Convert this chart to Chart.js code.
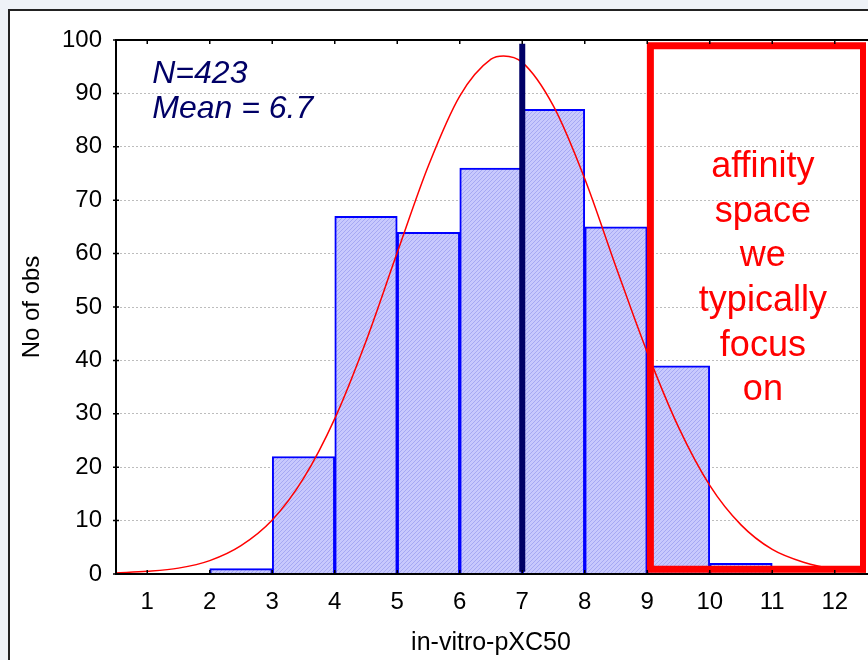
<!DOCTYPE html>
<html>
<head>
<meta charset="utf-8">
<script src="https://cdn.jsdelivr.net/npm/chart.js@4.4.1/dist/chart.umd.min.js"></script>
<style>
  html, body { margin: 0; padding: 0; background: #eef2f7; overflow: hidden; }
  #frame { position: absolute; left: 8px; top: 9px; width: 870px; height: 660px; background: #fff; border-left: 2px solid #222; border-top: 2px solid #222; }
  #chart { position: absolute; left: 0; top: 0; }
</style>
</head>
<body>
<div id="frame"></div>
<canvas id="chart" width="868" height="660"></canvas>
<script>
// histogram bins (centre of each unit-wide bin) and counts
const binCentres = [2.5, 3.5, 4.5, 5.5, 6.5, 7.5, 8.5, 9.5, 10.5];
const binCounts = [1, 22, 67, 64, 76, 87, 65, 39, 2];
const xTicks = [1, 2, 3, 4, 5, 6, 7, 8, 9, 10, 11, 12];
const yTicks = [0, 10, 20, 30, 40, 50, 60, 70, 80, 90, 100];

// fitted normal curve
const curveX = [0.5, 1, 1.5, 2, 2.5, 3, 3.5, 4, 4.5, 5, 5.5, 6, 6.5, 6.7, 7, 7.5, 8, 8.5, 9, 9.5, 10, 10.5, 11, 11.5, 12, 12.5];
const curveY = [0.2, 0.5, 1.1, 2.5, 5.3, 10.1, 17.9, 29.1, 43.6, 60.2, 76.5, 89.5, 96.4, 97, 95.8, 87.6, 74, 57.5, 41.5, 27.5, 16.6, 9.2, 4.6, 2.2, 0.9, 0.4];

// vertical mean marker and the red "focus" box (data units)
const meanX = 7;
const meanSpan = [0.4, 99.3];
const focusX = [9.05, 12.46];
const focusY = [0.9, 98.9];
const focusLines = ['affinity', 'space', 'we', 'typically', 'focus', 'on'];
const statLines = ['N=423', 'Mean = 6.7'];

Chart.defaults.font.family = "'Liberation Sans', Arial, sans-serif";
Chart.defaults.color = '#000';

// light blue fill with fine diagonal hatching, like the original bars
const hatch = () => {
    const c = document.createElement('canvas');
    c.width = 4; c.height = 4;
    const g = c.getContext('2d');
    g.fillStyle = '#c8c9fd';
    g.fillRect(0, 0, 4, 4);
    g.strokeStyle = '#a6a9f3';
    g.lineWidth = 1;
    g.beginPath();
    g.moveTo(-1, 5); g.lineTo(5, -1);
    g.stroke();
    return g.createPattern(c, 'repeat');
};

const frame = {
    id: 'frame',
    afterDatasetsDraw(chart) {
        const {ctx, chartArea: a, scales: {x, y}} = chart;
        ctx.save();
        ctx.strokeStyle = '#000';
        ctx.lineWidth = 2;
        ctx.beginPath();
        ctx.moveTo(a.right + 4, a.top);
        ctx.lineTo(a.left, a.top);
        ctx.lineTo(a.left, a.bottom);
        ctx.lineTo(a.right + 4, a.bottom);
        ctx.stroke();
        ctx.lineWidth = 1.5;
        ctx.beginPath();
        xTicks.forEach(v => {
            const px = x.getPixelForValue(v);
            ctx.moveTo(px, a.top); ctx.lineTo(px, a.top + 4);
            ctx.moveTo(px, a.bottom); ctx.lineTo(px, a.bottom - 4);
        });
        yTicks.forEach(v => {
            const py = y.getPixelForValue(v);
            ctx.moveTo(a.left - 3, py); ctx.lineTo(a.left + 3, py);
        });
        ctx.stroke();
        ctx.restore();
    },
    afterDraw(chart) {
        const {ctx, scales: {x, y}} = chart;
        ctx.save();
        ctx.fillStyle = '#000066';
        ctx.font = "italic 32px 'Liberation Sans', Arial, sans-serif";
        ctx.textAlign = 'left';
        ctx.textBaseline = 'alphabetic';
        statLines.forEach((t, i) => {
            ctx.fillText(t, x.getPixelForValue(1.08), y.getPixelForValue(92) + i * 35);
        });
        ctx.fillStyle = '#ff0000';
        ctx.font = "36px 'Liberation Sans', Arial, sans-serif";
        ctx.textAlign = 'center';
        focusLines.forEach((t, i) => {
            ctx.fillText(t, x.getPixelForValue(10.85), y.getPixelForValue(74.3) + i * 44.6);
        });
        ctx.restore();
    }
};

new Chart(document.getElementById('chart'), {
    type: 'bar',
    data: {
        datasets: [
            {
                type: 'line',
                data: [
                    {x: focusX[0], y: focusY[0]}, {x: focusX[0], y: focusY[1]},
                    {x: focusX[1], y: focusY[1]}, {x: focusX[1], y: focusY[0]},
                    {x: focusX[0], y: focusY[0]}
                ],
                borderColor: '#ff0000',
                borderWidth: 7,
                borderCapStyle: 'square',
                borderJoinStyle: 'miter',
                pointRadius: 0,
                tension: 0,
                fill: false,
                order: 0
            },
            {
                type: 'line',
                data: meanSpan.map(v => ({x: meanX, y: v})),
                borderColor: '#000066',
                borderWidth: 6,
                pointRadius: 0,
                fill: false,
                order: 1
            },
            {
                type: 'line',
                data: curveX.map((v, i) => ({x: v, y: curveY[i]})),
                borderColor: '#ff0000',
                borderWidth: 1.5,
                pointRadius: 0,
                cubicInterpolationMode: 'monotone',
                fill: false,
                order: 2
            },
            {
                type: 'bar',
                data: binCentres.map((v, i) => ({x: v, y: binCounts[i]})),
                backgroundColor: hatch(),
                borderColor: '#0000ff',
                borderWidth: 2,
                barPercentage: 1,
                categoryPercentage: 1,
                order: 3
            }
        ]
    },
    options: {
        responsive: false,
        animation: false,
        devicePixelRatio: 1,
        layout: { padding: { top: 40, right: 2, left: 0, bottom: 0 } },
        plugins: { legend: { display: false }, tooltip: { enabled: false } },
        scales: {
            x: {
                type: 'linear',
                offset: false,
                min: 0.5,
                max: 12.5,
                afterBuildTicks: s => { s.ticks = xTicks.map(v => ({value: v})); },
                afterFit: s => { s.height = 86; },
                ticks: { font: { size: 24 }, padding: 14, autoSkip: false, maxRotation: 0 },
                grid: { display: false, drawTicks: false, offset: false },
                border: { display: false },
                title: { display: true, text: 'in-vitro-pXC50', font: { size: 25 }, padding: { bottom: 2 } }
            },
            y: {
                min: 0,
                max: 100,
                afterBuildTicks: s => { s.ticks = yTicks.map(v => ({value: v})); },
                afterFit: s => { s.width = 116; },
                ticks: { font: { size: 24 }, padding: 14 },
                grid: {
                    drawTicks: false,
                    color: c => (c.tick && (c.tick.value === 0 || c.tick.value === 100)) ? 'rgba(0,0,0,0)' : '#bdbdbd',
                    lineWidth: 1
                },
                border: { display: false, dash: [2, 2] },
                title: { display: true, text: 'No of obs', font: { size: 24 }, padding: { top: 18 } }
            }
        }
    },
    plugins: [frame]
});
</script>
</body>
</html>
